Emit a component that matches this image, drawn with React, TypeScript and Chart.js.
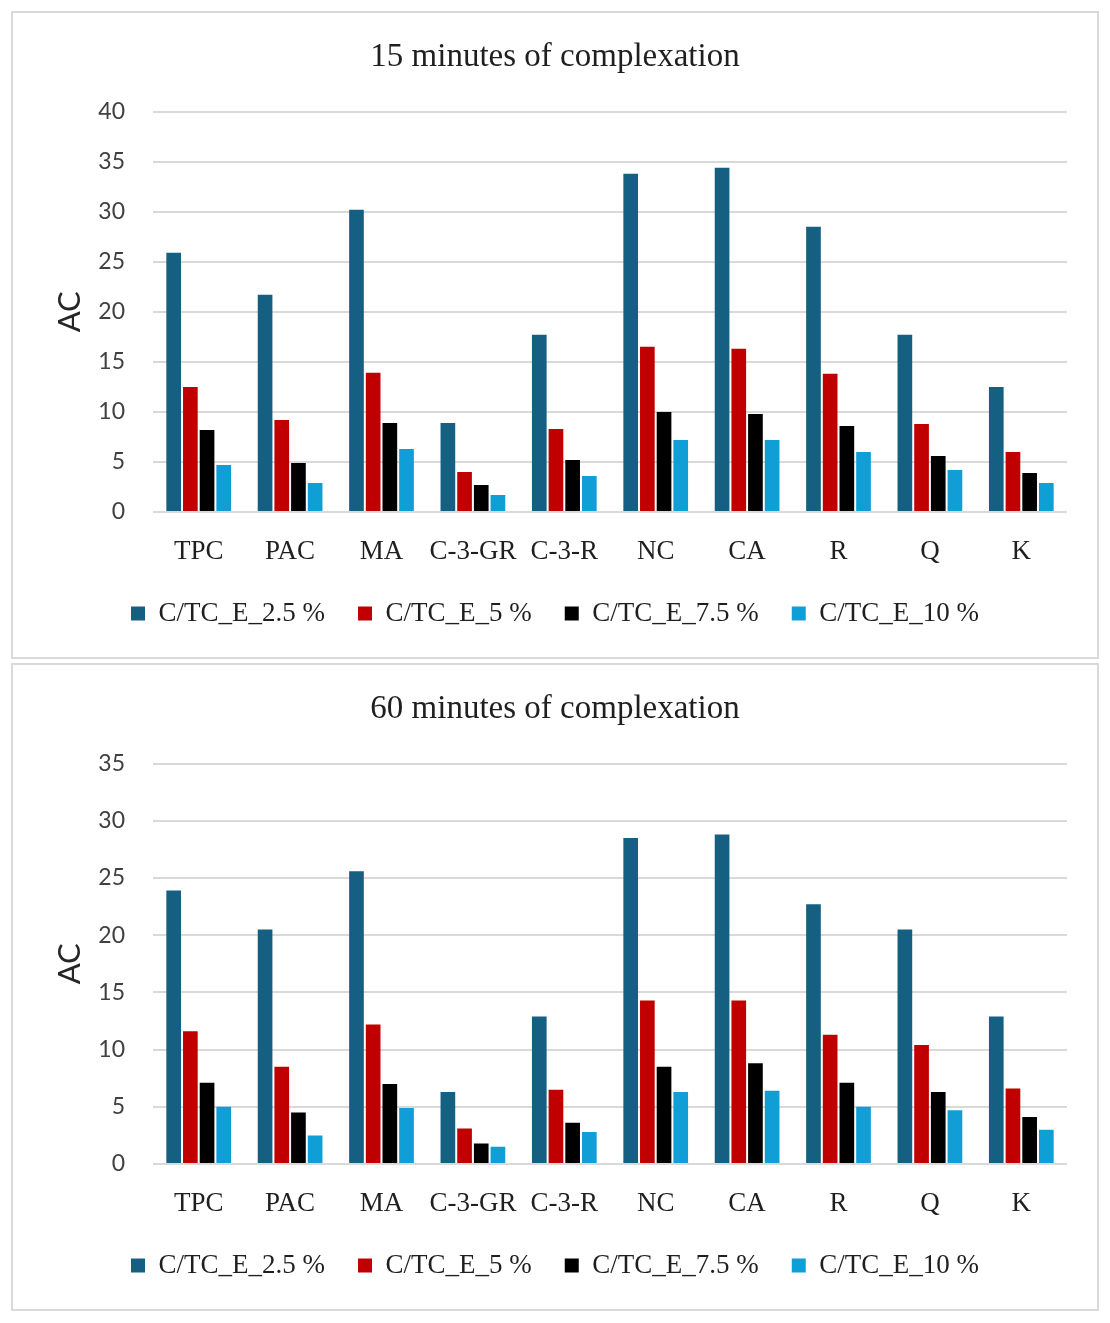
import React, { useEffect, useRef } from "react";
import { Chart, registerables } from "chart.js";

Chart.register(...registerables);

const categories = ["TPC", "PAC", "MA", "C-3-GR", "C-3-R", "NC", "CA", "R", "Q", "K"];
const seriesLabels = ["C/TC_E_2.5 %", "C/TC_E_5 %", "C/TC_E_7.5 %", "C/TC_E_10 %"];
const seriesColors = ["#156082", "#C00000", "#000000", "#0F9ED5"];

const min15_2_5 = [25.9, 21.7, 30.2, 8.9, 17.7, 33.8, 34.4, 28.5, 17.7, 12.5];
const min15_5 = [12.5, 9.2, 13.9, 4.0, 8.3, 16.5, 16.3, 13.8, 8.8, 6.0];
const min15_7_5 = [8.2, 4.9, 8.9, 2.7, 5.2, 10.0, 9.8, 8.6, 5.6, 3.9];
const min15_10 = [4.7, 2.9, 6.3, 1.7, 3.6, 7.2, 7.2, 6.0, 4.2, 2.9];

const min60_2_5 = [23.9, 20.5, 25.6, 6.3, 12.9, 28.5, 28.8, 22.7, 20.5, 12.9];
const min60_5 = [11.6, 8.5, 12.2, 3.1, 6.5, 14.3, 14.3, 11.3, 10.4, 6.6];
const min60_7_5 = [7.1, 4.5, 7.0, 1.8, 3.6, 8.5, 8.8, 7.1, 6.3, 4.1];
const min60_10 = [5.0, 2.5, 4.9, 1.5, 2.8, 6.3, 6.4, 5.0, 4.7, 3.0];

const title15 = "15 minutes of complexation";
const title60 = "60 minutes of complexation";
const yAxisTitle = "AC";
const yMax15 = 40;
const yMax60 = 35;
const yStep = 5;

const CW = 1084;
const CH = 644;

function ChartBox(props: { title: string; series: number[][]; yMax: number; marginTop: number }) {
  const ref = useRef<HTMLCanvasElement | null>(null);
  useEffect(() => {
    if (!ref.current) return;
    const chart = new Chart(ref.current, {
      type: "bar",
      data: {
        labels: categories,
        datasets: props.series.map((vals, i) => ({
          label: seriesLabels[i],
          data: vals,
          backgroundColor: seriesColors[i],
          borderWidth: 0,
          categoryPercentage: 0.73,
          barPercentage: 0.88,
        })),
      },
      options: {
        responsive: false,
        animation: false,
        devicePixelRatio: 1,
        layout: { padding: { left: 0, right: 0, top: 0, bottom: 20 } },
        plugins: {
          title: {
            display: true,
            text: props.title,
            color: "#1f1f1f",
            font: { family: "'Liberation Serif', serif", size: 33, weight: "normal" },
            padding: { top: 25, bottom: 34 },
          },
          legend: {
            display: true,
            position: "bottom",
            labels: {
              color: "#1f1f1f",
              font: { family: "'Liberation Serif', serif", size: 27 },
              boxWidth: 14,
              boxHeight: 14,
              padding: 33,
            },
          },
          tooltip: { enabled: false },
        },
        scales: {
          x: {
            grid: { display: false },
            border: { display: false },
            ticks: {
              color: "#1f1f1f",
              font: { family: "'Liberation Serif', serif", size: 27 },
              padding: 16,
              maxRotation: 0,
              autoSkip: false,
            },
            afterFit: (s: any) => {
              s.height = 55;
            },
          },
          y: {
            min: 0,
            max: props.yMax,
            grid: { color: "#d9d9d9", lineWidth: 2, drawTicks: false },
            border: { display: false },
            ticks: {
              stepSize: yStep,
              color: "#404040",
              font: { family: "Lato, sans-serif", size: 23 },
              padding: 28,
            },
            title: {
              display: true,
              text: yAxisTitle,
              color: "#262626",
              font: { family: "Lato, sans-serif", size: 31 },
              padding: { top: 38, bottom: 0 },
            },
            afterFit: (s: any) => {
              s.width = 140;
            },
          },
          yRightSpace: {
            position: "right",
            display: true,
            min: 0,
            max: props.yMax,
            grid: { display: false },
            border: { display: false },
            ticks: { display: false },
            afterFit: (s: any) => {
              s.width = 30;
            },
          },
        },
      },
    });
    return () => chart.destroy();
  }, []);
  return (
    <div
      style={{
        width: CW,
        height: CH,
        border: "2px solid #d9d9d9",
        marginTop: props.marginTop,
        background: "#fff",
      }}
    >
      <canvas ref={ref} width={CW} height={CH} style={{ display: "block", width: CW, height: CH }} />
    </div>
  );
}

export default function App() {
  return (
    <div style={{ paddingLeft: 3, paddingTop: 3 }}>
      <ChartBox title={title15} series={[min15_2_5, min15_5, min15_7_5, min15_10]} yMax={yMax15} marginTop={0} />
      <ChartBox title={title60} series={[min60_2_5, min60_5, min60_7_5, min60_10]} yMax={yMax60} marginTop={4} />
    </div>
  );
}
